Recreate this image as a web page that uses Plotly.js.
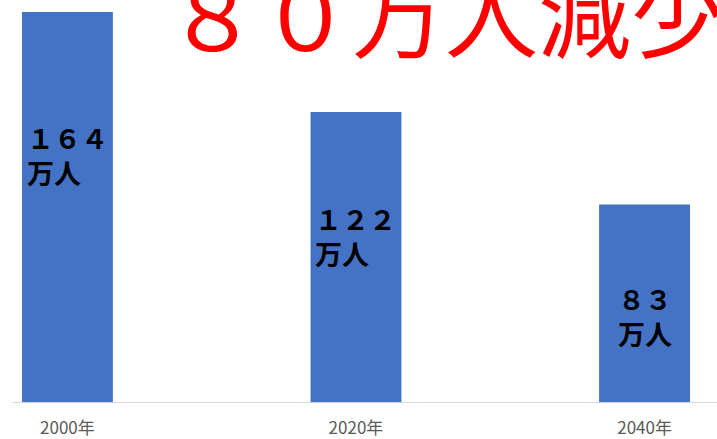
<!DOCTYPE html>
<html>
<head>
<meta charset="utf-8">
<script src="https://cdn.plot.ly/plotly-3.0.1.min.js"></script>
<style>html,body{margin:0;padding:0;background:#fff;}#chart{width:717px;height:439px;}</style>
</head>
<body>
<div id="chart"></div>
<script>
const categories = ['2000年', '2020年', '2040年'];
const values = [164, 122, 83];
const unitLabel = '万人';
const headline = '８０万人減少';

function fullWidth(n) {
  return String(n).replace(/\d/g, d => String.fromCharCode(d.charCodeAt(0) + 0xFEE0));
}

const labelY = [103.9, 69.8, 36.2];

const annotations = values.map((v, i) => ({
  x: categories[i], y: labelY[i], xref: 'x', yref: 'y',
  text: fullWidth(v) + '<br>' + unitLabel,
  showarrow: false, xanchor: 'center', yanchor: 'middle', align: 'left',
  font: {family: 'Noto Sans CJK JP', size: 27, color: '#000000', weight: 'bold'}
}));
annotations.push({
  x: (163.5 - 12) / 705, y: 0.975, xref: 'paper', yref: 'paper',
  xanchor: 'left', yanchor: 'middle', showarrow: false,
  text: headline,
  font: {family: 'Noto Sans CJK JP', size: 93, color: '#FF0000'}
});

const trace = {
  type: 'bar', x: categories, y: values,
  marker: {color: '#4472C4'}, width: 0.315,
  hoverinfo: 'skip'
};

const layout = {
  width: 717, height: 439,
  margin: {l: 12, r: 0, t: 0, b: 37},
  paper_bgcolor: '#ffffff', plot_bgcolor: '#ffffff',
  showlegend: false,
  xaxis: {
    type: 'category', range: [-0.192, 2.251],
    showline: true, linecolor: '#D9D9D9', linewidth: 1,
    showgrid: false, zeroline: false, ticks: '',
    ticklabelstandoff: 11,
    tickfont: {family: 'Noto Sans CJK JP', size: 17, color: '#595959'}
  },
  yaxis: {
    range: [0, 164 * 402 / 390], visible: false, showgrid: false, zeroline: false
  },
  annotations: annotations
};

Plotly.newPlot('chart', [trace], layout, {displayModeBar: false, staticPlot: true});
</script>
</body>
</html>
